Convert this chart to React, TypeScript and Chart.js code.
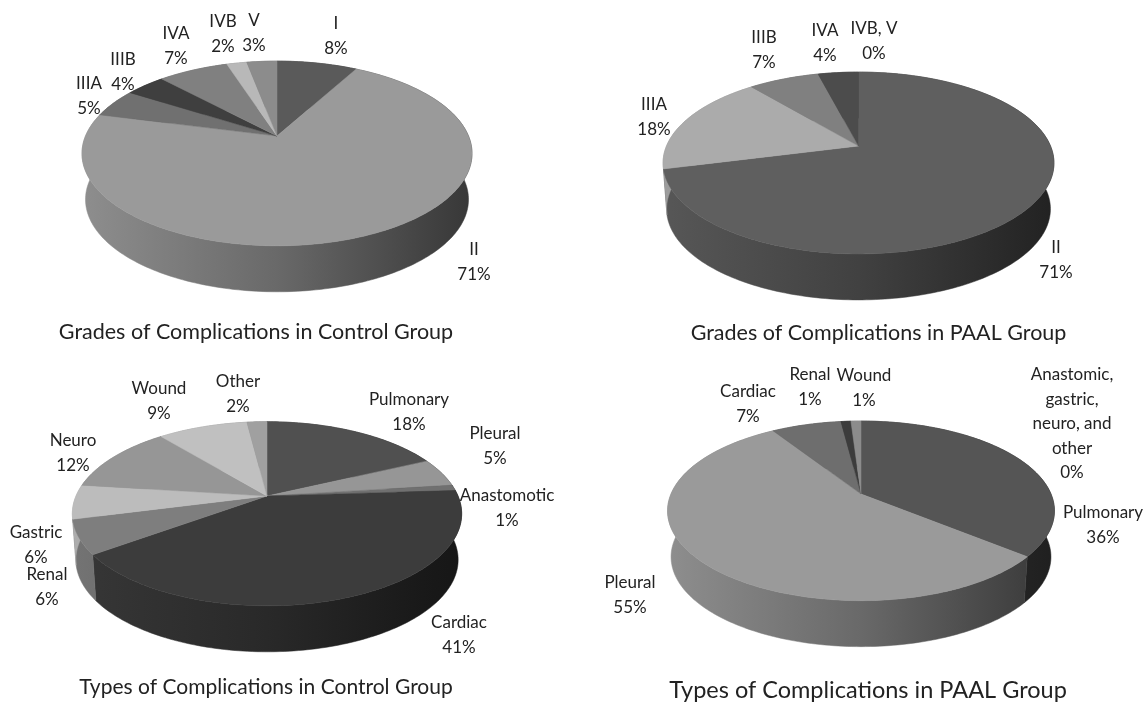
import React, { useEffect, useRef } from "react";
import { Chart, registerables } from "chart.js";

Chart.register(...registerables);

// Complication grades and types, percent of complications per group.
const gradeControlCategories = ["I", "II", "IIIA", "IIIB", "IVA", "IVB", "V"];
const gradeControlValues = [8, 71, 5, 4, 7, 2, 3];
const gradeControlColors = ["#5a5a5a", "#9a9a9a", "#707070", "#3f3f3f", "#808080", "#b8b8b8", "#8c8c8c"];

const gradePaalCategories = ["II", "IIIA", "IIIB", "IVA", "IVB, V"];
const gradePaalValues = [71, 18, 7, 4, 0];
const gradePaalColors = ["#5f5f5f", "#ababab", "#808080", "#4c4c4c", "#3a3a3a"];

const typeControlCategories = ["Pulmonary", "Pleural", "Anastomotic", "Cardiac", "Renal", "Gastric", "Neuro", "Wound", "Other"];
const typeControlValues = [18, 5, 1, 41, 6, 6, 12, 9, 2];
const typeControlColors = ["#505050", "#969696", "#707070", "#3c3c3c", "#7e7e7e", "#bcbcbc", "#969696", "#c0c0c0", "#a0a0a0"];

const typePaalCategories = ["Pulmonary", "Pleural", "Cardiac", "Renal", "Wound", "Anastomic,\ngastric,\nneuro, and\nother"];
const typePaalValues = [36, 55, 7, 1, 1, 0];
const typePaalColors = ["#555555", "#9a9a9a", "#6e6e6e", "#3c3c3c", "#8c8c8c", "#a0a0a0"];

// Label anchors in page pixels: centre x, centre y of the first line.
const gradeControlLabelAt = [[336, 24], [474, 250], [89, 84], [123, 60], [176, 34], [223, 22], [254, 21]];
const gradePaalLabelAt = [[1056, 248], [654, 105], [764, 38], [825, 31], [874, 29]];
const typeControlLabelAt = [[409, 400], [495, 434], [507, 496], [459, 623], [47, 575], [36, 533], [73, 441], [159, 389], [238, 382]];
const typePaalLabelAt = [[1103, 513], [630, 583], [748, 392], [810, 375], [864, 376], [1072, 375]];

const FONT = "Lato, 'Open Sans', sans-serif";
const INK = "#222222";
const LINE_HEIGHT = 24.5;

type PieSpec = {
  title: string;
  titleAt: number[];
  titleSize: number;
  categories: string[];
  values: number[];
  colors: string[];
  labelAt: number[][];
  frame: number[]; // left, top, width, height of the canvas on the page
  apex: number[];
  radius: number;
  squash: number;
  perspective: number;
  depth: number;
};

const pies: PieSpec[] = [
  {
    title: "Grades of Complications in Control Group",
    titleAt: [256, 332],
    titleSize: 21.5,
    categories: gradeControlCategories,
    values: gradeControlValues,
    colors: gradeControlColors,
    labelAt: gradeControlLabelAt,
    frame: [0, 0, 574, 352],
    apex: [277, 136],
    radius: 191.5,
    squash: 0.465,
    perspective: 0.189,
    depth: 46,
  },
  {
    title: "Grades of Complications in PAAL Group",
    titleAt: [878.5, 333],
    titleSize: 21.5,
    categories: gradePaalCategories,
    values: gradePaalValues,
    colors: gradePaalColors,
    labelAt: gradePaalLabelAt,
    frame: [574, 0, 574, 352],
    apex: [858.5, 146],
    radius: 192,
    squash: 0.457,
    perspective: 0.187,
    depth: 46,
  },
  {
    title: "Types of Complications in Control Group",
    titleAt: [266, 687],
    titleSize: 21,
    categories: typeControlCategories,
    values: typeControlValues,
    colors: typeControlColors,
    labelAt: typeControlLabelAt,
    frame: [0, 352, 574, 351],
    apex: [267, 496],
    radius: 191,
    squash: 0.464,
    perspective: 0.193,
    depth: 46,
  },
  {
    title: "Types of Complications in PAAL Group",
    titleAt: [868, 690],
    titleSize: 23.5,
    categories: typePaalCategories,
    values: typePaalValues,
    colors: typePaalColors,
    labelAt: typePaalLabelAt,
    frame: [574, 352, 574, 351],
    apex: [861, 494],
    radius: 190,
    squash: 0.456,
    perspective: 0.1875,
    depth: 46,
  },
];

function shade(hex: string, k: number) {
  const n = parseInt(hex.slice(1), 16);
  const c = (s: number) => Math.round(((n >> s) & 255) * k);
  return `rgb(${c(16)},${c(8)},${c(0)})`;
}

// Wall lighting falls off from the left side of the disc to the right.
const WALL_LIGHT = [
  [0, 0.92],
  [0.5, 0.68],
  [0.9, 0.42],
  [1, 0.36],
];

// Draws the doughnut controller's arcs as a tilted disc seen in perspective.
const tiltedDisc = {
  id: "tiltedDisc",
  beforeDatasetDraw(chart: any, _args: any, opts: any) {
    const { ctx } = chart;
    const spec: PieSpec = opts.spec;
    const arcs = chart.getDatasetMeta(0).data;
    if (!arcs.length) return false;
    const cx = arcs[0].x;
    const cy = arcs[0].y;
    const rx = arcs[0].outerRadius;
    const ry = rx * spec.squash;
    const p = spec.perspective;
    const at = (a: number) => {
      const u = Math.cos(a);
      const v = Math.sin(a);
      const s = 1 / (1 - p * v);
      return [cx + rx * u * s, cy + ry * v * s];
    };
    const edge = (arc: any) => {
      const pts: number[][] = [];
      const span = arc.endAngle - arc.startAngle;
      const steps = Math.max(2, Math.ceil(span / 0.02));
      for (let i = 0; i <= steps; i++) pts.push(at(arc.startAngle + (span * i) / steps));
      return pts;
    };

    ctx.save();
    // Outer walls first; the top faces cover whatever lies behind them.
    arcs.forEach((arc: any, i: number) => {
      if (arc.endAngle - arc.startAngle <= 0) return;
      const pts = edge(arc);
      const grad = ctx.createLinearGradient(cx - rx * 1.02, 0, cx + rx * 1.02, 0);
      WALL_LIGHT.forEach(([stop, k]) => grad.addColorStop(stop, shade(spec.colors[i], k)));
      ctx.beginPath();
      pts.forEach(([x, y], j) => (j ? ctx.lineTo(x, y) : ctx.moveTo(x, y)));
      [...pts].reverse().forEach(([x, y]) => ctx.lineTo(cx + (x - cx) * 0.982, y + spec.depth));
      ctx.closePath();
      ctx.fillStyle = grad;
      ctx.strokeStyle = grad;
      ctx.lineWidth = 0.5;
      ctx.fill();
      ctx.stroke();
    });
    // Top faces.
    arcs.forEach((arc: any, i: number) => {
      if (arc.endAngle - arc.startAngle <= 0) return;
      ctx.beginPath();
      ctx.moveTo(cx, cy);
      edge(arc).forEach(([x, y]) => ctx.lineTo(x, y));
      ctx.closePath();
      ctx.fillStyle = spec.colors[i];
      ctx.strokeStyle = spec.colors[i];
      ctx.lineWidth = 0.5;
      ctx.fill();
      ctx.stroke();
    });
    ctx.restore();
    return false;
  },
  afterDraw(chart: any, _args: any, opts: any) {
    const { ctx } = chart;
    const spec: PieSpec = opts.spec;
    const [ox, oy] = spec.frame;
    ctx.save();
    ctx.fillStyle = INK;
    ctx.textAlign = "center";
    ctx.textBaseline = "middle";
    ctx.font = `${spec.titleSize}px ${FONT}`;
    ctx.fillText(spec.title, spec.titleAt[0] - ox, spec.titleAt[1] - oy);
    ctx.font = `17px ${FONT}`;
    spec.categories.forEach((name, i) => {
      const [x, y] = spec.labelAt[i];
      const lines = [...name.split("\n"), `${spec.values[i]}%`];
      lines.forEach((line, j) => ctx.fillText(line, x - ox, y - oy + j * LINE_HEIGHT));
    });
    ctx.restore();
  },
};

function Pie({ spec }: { spec: PieSpec }) {
  const ref = useRef<HTMLCanvasElement>(null);
  useEffect(() => {
    const [left, top, w, h] = spec.frame;
    const ax = spec.apex[0] - left;
    const ay = spec.apex[1] - top;
    const chart = new Chart(ref.current as HTMLCanvasElement, {
      type: "doughnut",
      data: {
        labels: spec.categories,
        datasets: [{ data: spec.values, backgroundColor: spec.colors, borderWidth: 0 }],
      },
      options: {
        animation: false,
        responsive: false,
        events: [],
        cutout: 0,
        radius: spec.radius,
        layout: {
          padding: {
            left: Math.max(0, 2 * ax - w),
            right: Math.max(0, w - 2 * ax),
            top: Math.max(0, 2 * ay - h),
            bottom: Math.max(0, h - 2 * ay),
          },
        },
        plugins: {
          legend: { display: false },
          tooltip: { enabled: false },
          tiltedDisc: { spec },
        },
      } as any,
      plugins: [tiltedDisc],
    });
    return () => chart.destroy();
  }, [spec]);
  const [left, top, w, h] = spec.frame;
  return (
    <canvas
      ref={ref}
      width={w}
      height={h}
      style={{ position: "absolute", left, top, width: w, height: h, display: "block" }}
    />
  );
}

export default function App() {
  return (
    <div style={{ position: "absolute", left: 0, top: 0, width: 1148, height: 703, background: "#fff" }}>
      {pies.map((spec) => (
        <Pie key={spec.title} spec={spec} />
      ))}
    </div>
  );
}
